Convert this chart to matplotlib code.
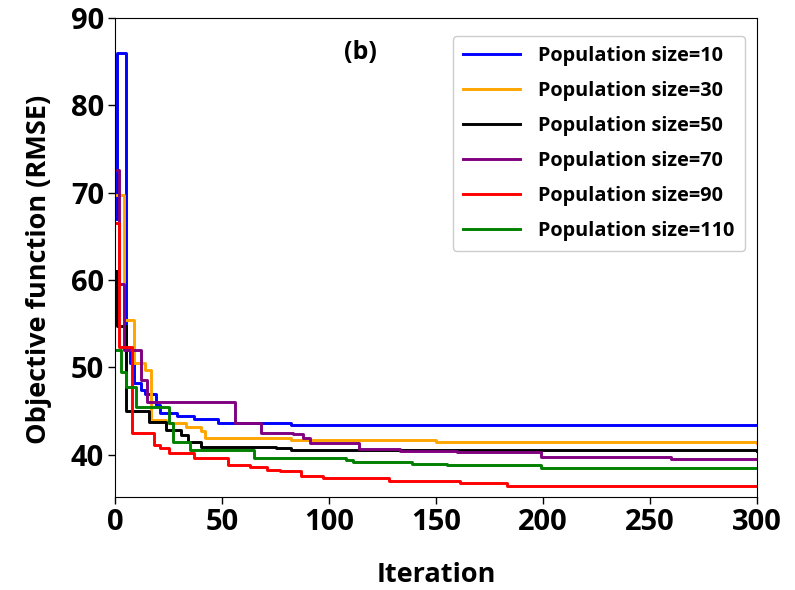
import matplotlib
matplotlib.use("Agg")
import matplotlib.pyplot as plt

# Best objective value per iteration (step changes only), one run per population size
iter_10 = [0, 1, 5, 7, 9, 12, 14, 19, 21, 29, 37, 48, 57, 82, 300]
rmse_10 = [67.0, 86.0, 52.0, 50.5, 48.2, 47.4, 47.0, 45.7, 44.8, 44.4, 44.1, 43.7, 43.6, 43.45, 43.45]

iter_30 = [0, 4, 9, 14, 17, 24, 33, 40, 42, 82, 150, 300]
rmse_30 = [69.7, 55.4, 50.5, 49.7, 44.0, 43.6, 43.2, 42.7, 41.9, 41.7, 41.5, 41.4]

iter_50 = [0, 1, 5, 16, 24, 31, 34, 40, 75, 82, 300]
rmse_50 = [61.0, 54.7, 45.0, 43.8, 42.9, 42.3, 41.5, 40.95, 40.8, 40.5, 40.4]

iter_70 = [0, 2, 4, 12, 15, 56, 68, 83, 88, 91, 114, 133, 160, 199, 260, 300]
rmse_70 = [72.6, 59.5, 52.0, 48.6, 46.1, 43.7, 42.5, 42.4, 41.9, 41.4, 40.7, 40.4, 40.3, 39.8, 39.5, 39.5]

iter_90 = [0, 2, 8, 18, 21, 25, 37, 53, 63, 71, 77, 87, 97, 128, 161, 183, 300]
rmse_90 = [66.5, 52.4, 42.5, 41.1, 40.75, 40.2, 39.6, 38.8, 38.65, 38.3, 38.2, 37.6, 37.3, 37.0, 36.75, 36.45, 36.45]

iter_110 = [0, 3, 5, 10, 25, 27, 35, 65, 108, 111, 139, 155, 199, 300]
rmse_110 = [52.0, 49.5, 47.8, 45.5, 43.6, 41.5, 40.6, 39.6, 39.4, 39.2, 39.0, 38.85, 38.5, 38.5]

series = [
    ("Population size=10", iter_10, rmse_10, "blue"),
    ("Population size=30", iter_30, rmse_30, "orange"),
    ("Population size=50", iter_50, rmse_50, "black"),
    ("Population size=70", iter_70, rmse_70, "purple"),
    ("Population size=90", iter_90, rmse_90, "red"),
    ("Population size=110", iter_110, rmse_110, "green"),
]

plt.rcParams["font.family"] = ["Open Sans", "DejaVu Sans"]
plt.rcParams["font.weight"] = "bold"

fig = plt.figure(figsize=(7.95, 5.9), dpi=100)
ax = fig.add_axes([0.1447, 0.158, 0.8075, 0.8115])

for label, it, val, color in series:
    ax.plot(it, val, drawstyle="steps-post", color=color, lw=2.1, label=label)

ax.set_xlim(0, 300)
ax.set_ylim(35.2, 90)
ax.set_xticks([0, 50, 100, 150, 200, 250, 300])
ax.set_yticks([40, 50, 60, 70, 80, 90])
ax.tick_params(labelsize=21, length=5, width=1, pad=3)
for t in ax.get_xticklabels() + ax.get_yticklabels():
    t.set_fontweight("bold")

ax.set_xlabel("Iteration", fontsize=19.5, fontweight="bold", labelpad=18)
ax.set_ylabel("Objective function (RMSE)", fontsize=19.5, fontweight="bold")
ax.yaxis.set_label_coords(-0.098, 0.474)

ax.text(114.5, 86.0, "(b)", fontsize=18, fontweight="bold", ha="center", va="center")

leg = ax.legend(loc="upper right", bbox_to_anchor=(0.981, 0.963), prop={"size": 14.3, "weight": "bold"},
                handlelength=2.85, handletextpad=0.95, labelspacing=0.76, borderpad=0.5,
                borderaxespad=0, fancybox=True, framealpha=1)
leg.get_frame().set_edgecolor("#cccccc")

fig.savefig("out.png", dpi=100)
